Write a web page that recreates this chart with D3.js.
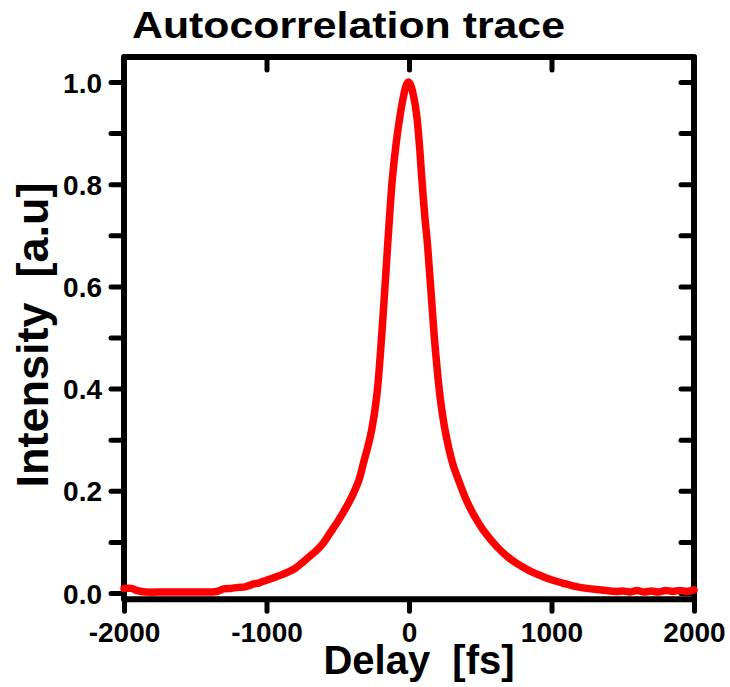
<!DOCTYPE html>
<html>
<head>
<meta charset="utf-8">
<script src="https://cdn.jsdelivr.net/npm/d3@7"></script>
<style>
  body { margin: 0; background: #fff; }
  svg text { font-family: "Liberation Sans", Arial, sans-serif; font-weight: bold; fill: #000; }
  .tick line { stroke: #000; stroke-width: 5; stroke-linecap: round; }
</style>
</head>
<body>
<div class="trace-plot"></div>
<script>
// delay [fs] and intensity [a.u]
const delay = [-2000, -1950, -1900, -1850, -1700, -1500, -1350, -1300, -1250, -1200, -1150, -1100,
  -1050, -1000, -950, -900, -850, -800, -750, -700, -650, -600, -550, -500, -450, -400, -350,
  -320, -290, -262, -227, -190, -150, -117, -90, -65, -40, -20, -5, 10, 30, 54, 75, 89, 110, 131, 175, 194,
  218, 253, 306, 350, 393, 450, 521, 615, 700, 756, 850, 942, 1000, 1083, 1150, 1247, 1350,
  1457, 1500, 1550, 1600, 1650, 1700, 1750, 1800, 1850, 1900, 1950, 2000];
const intensity = [0.009, 0.009, 0.004, 0.002, 0.002, 0.002, 0.003, 0.008, 0.009, 0.011, 0.012, 0.017,
  0.020, 0.025, 0.030, 0.035, 0.041, 0.048, 0.059, 0.071, 0.083, 0.098, 0.119, 0.140, 0.163, 0.189, 0.222,
  0.254, 0.285, 0.319, 0.384, 0.510, 0.680, 0.810, 0.880, 0.930, 0.970, 0.993, 1.000, 0.995, 0.975, 0.935, 0.870, 0.815, 0.740, 0.678, 0.510, 0.449,
  0.384, 0.319, 0.254, 0.219, 0.188, 0.155, 0.123, 0.091, 0.069, 0.058, 0.043, 0.032, 0.026, 0.019, 0.014, 0.009, 0.006,
  0.003, 0.004, 0.002, 0.005, 0.002, 0.004, 0.002, 0.005, 0.003, 0.005, 0.003, 0.006];
const xTicks = [-2000, -1000, 0, 1000, 2000];
const yTicks = [0, 0.2, 0.4, 0.6, 0.8, 1.0];
const yMinorTicks = [0, 0.1, 0.2, 0.3, 0.4, 0.5, 0.6, 0.7, 0.8, 0.9, 1.0];

const data = delay.map((d, i) => ({delay: d, intensity: intensity[i]}));

const width = 730;
const height = 687;

const svg = d3.select('.trace-plot').append('svg')
  .attr('width', width)
  .attr('height', height);

const x = d3.scaleLinear().domain([-2000, 2000]).range([124, 694]);
const y = d3.scaleLinear().domain([0, 1]).range([593, 82]);
const yLow = -0.012, yHigh = 1.049;

// left axis: labels + outward ticks every 0.1
svg.append('g')
  .attr('transform', `translate(${x(-2000)},0)`)
  .call(d3.axisLeft(y).tickValues(yMinorTicks).tickSize(13).tickPadding(9)
    .tickFormat(d => yTicks.some(t => Math.abs(t - d) < 1e-9) ? d3.format('.1f')(d) : ''))
  .call(g => g.select('.domain').remove())
  .call(g => g.selectAll('text').attr('font-size', 28).attr('font-family', null).attr('dy', '0.36em'));

// right axis: inward ticks
svg.append('g')
  .attr('transform', `translate(${x(2000)},0)`)
  .call(d3.axisRight(y).tickValues(yMinorTicks).tickSize(-13).tickFormat(''))
  .call(g => g.select('.domain').remove());

// bottom axis
svg.append('g')
  .attr('transform', `translate(0,${y(yLow)})`)
  .call(d3.axisBottom(x).tickValues(xTicks).tickSize(12).tickPadding(11)
    .tickFormat(d => String(d)))
  .call(g => g.select('.domain').remove())
  .call(g => g.selectAll('text').attr('font-size', 28).attr('font-family', null).attr('dy', '0.71em'));

// top axis: inward ticks
svg.append('g')
  .attr('transform', `translate(0,${y(yHigh)})`)
  .call(d3.axisTop(x).tickValues(xTicks).tickSize(-13).tickFormat(''))
  .call(g => g.select('.domain').remove());

// frame
svg.append('rect')
  .attr('x', x(-2000))
  .attr('y', y(yHigh))
  .attr('width', x(2000) - x(-2000))
  .attr('height', y(yLow) - y(yHigh))
  .attr('fill', 'none')
  .attr('stroke', '#000')
  .attr('stroke-width', 6)
  .attr('stroke-linejoin', 'round');

const line = d3.line()
  .x(d => x(d.delay))
  .y(d => y(d.intensity))
  .curve(d3.curveCatmullRom.alpha(0.5));

svg.append('path')
  .datum(data)
  .attr('d', line)
  .attr('fill', 'none')
  .attr('stroke', '#ff0000')
  .attr('stroke-width', 7.5)
  .attr('stroke-linejoin', 'round')
  .attr('stroke-linecap', 'round');

svg.append('text')
  .attr('x', 132)
  .attr('y', 38)
  .attr('font-size', 37)
  .attr('textLength', 433)
  .attr('lengthAdjust', 'spacingAndGlyphs')
  .text('Autocorrelation trace');

svg.append('text')
  .attr('x', 419)
  .attr('y', 674)
  .attr('text-anchor', 'middle')
  .attr('font-size', 40)
  .attr('xml:space', 'preserve')
  .text('Delay  [fs]');

svg.append('text')
  .attr('transform', 'translate(48,335) rotate(-90)')
  .attr('text-anchor', 'middle')
  .attr('font-size', 45)
  .attr('xml:space', 'preserve')
  .text('Intensity  [a.u]');
</script>
</body>
</html>
